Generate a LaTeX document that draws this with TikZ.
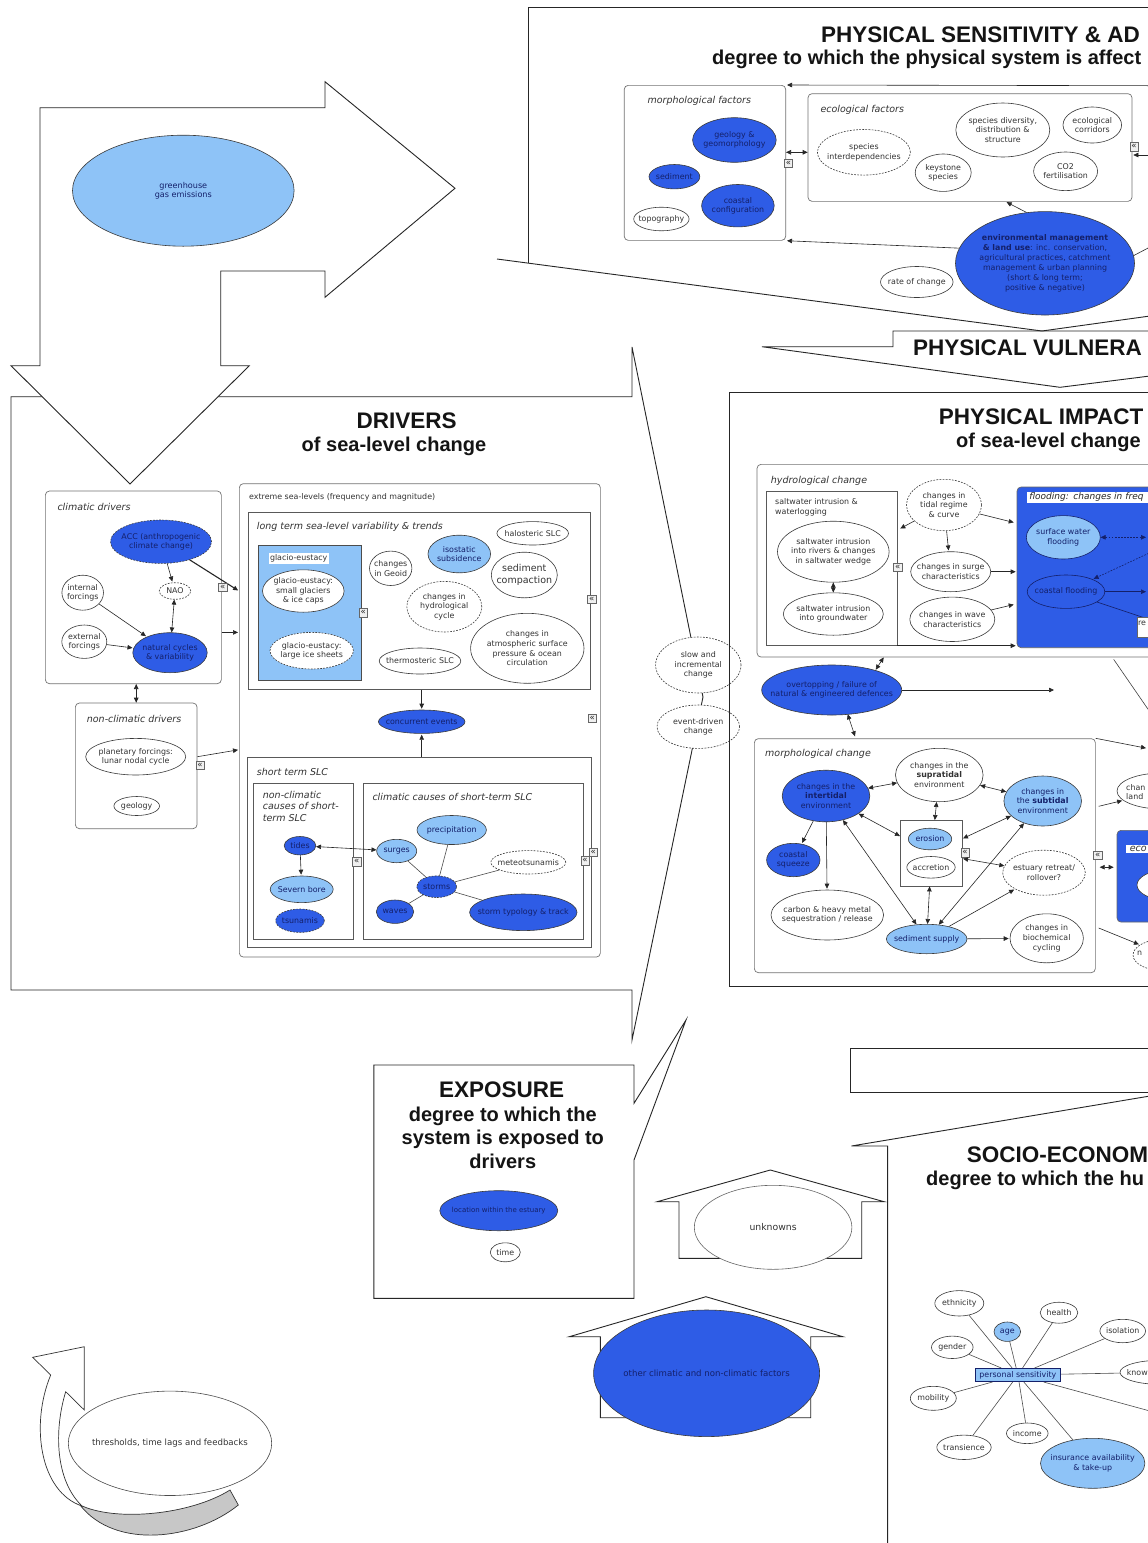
\documentclass[tikz,border=0pt]{standalone}
\usepackage{fontspec}
\setmainfont{DejaVu Sans}
\newfontfamily\headfont{Liberation Sans}
\usetikzlibrary{arrows.meta,shapes.geometric,calc}
\definecolor{dblue}{HTML}{2E5CE6}
\definecolor{lblue}{HTML}{8EC3F7}
\definecolor{ink}{HTML}{14206A}
\definecolor{rim}{HTML}{3A3A3A}
\newcommand\labfont{\fontsize{7.9}{9.6}\selectfont}
\newcommand\ttlfont{\fontsize{9.5}{11.3}\selectfont\itshape}
\newcommand\hdfont{\headfont\bfseries\fontsize{22.5}{26}\selectfont}
\newcommand\sbfont{\headfont\bfseries\fontsize{20}{23.5}\selectfont}
\begin{document}
\begin{tikzpicture}[x=1pt,y=-1pt,
  lbl/.style={font=\labfont, align=center, text=black!80, inner sep=0pt},
  lbk/.style={lbl, text=ink},
  ov/.style 2 args={shape=ellipse, draw=rim, line width=0.6pt, inner sep=0pt, minimum width=#1pt, minimum height=#2pt},
  tx/.style={label={[lbl]center:{#1}}},
  txb/.style={label={[lbk]center:{#1}}},
  fdk/.style={fill=dblue},
  flt/.style={fill=lblue},
  fwh/.style={fill=white},
  dsh/.style={dash pattern=on 1.8pt off 1.3pt},
  bx/.style 2 args={draw=black!55, line width=0.7pt, rounded corners=4pt, minimum width=#1pt, minimum height=#2pt, anchor=north west, inner sep=0pt, fill=white},
  sq/.style 2 args={draw=black!65, line width=0.7pt, minimum width=#1pt, minimum height=#2pt, anchor=north west, inner sep=0pt, fill=white},
  ttl/.style={font=\ttlfont, anchor=west, inner sep=0pt, text=black!80},
  hd/.style={font=\hdfont, inner sep=0pt, text=black!92},
  sb/.style={font=\sbfont, inner sep=0pt, align=center, text=black!92},
  con/.style={-{Triangle[length=5pt,width=4.5pt]}, line width=0.6pt, draw=black!85, shorten >=1pt},
  bicon/.style={{Triangle[length=5pt,width=4.5pt]}-{Triangle[length=5pt,width=4.5pt]}, line width=0.6pt, draw=black!85},
  ln/.style={line width=0.6pt, draw=black!70},
  xp/.style={draw=black!60, fill=black!6, font=\fontsize{8.5}{8.5}\selectfont, inner sep=0pt, minimum size=8.5pt, text=black!85},
  outl/.style={draw=black!85, line width=0.9pt, line join=miter}
]
\useasboundingbox (0,0) rectangle (1148,1543);
\clip (0,0) rectangle (1148,1543);
\fill[white] (0,0) rectangle (1148,1543);

% ---------- physical sensitivity frame and vulnerability banner ----------
\draw[outl] (528,262.9) -- (528,7.7) -- (1150,7.7);
\draw[outl] (497,259) -- (1042,331) -- (1150,316);
\node[hd, anchor=west] (psTitle) at (821,35) {PHYSICAL SENSITIVITY \& AD};
\node[sb, anchor=west] (psSub) at (712,59.5) {degree to which the physical system is affect};
\draw[outl] (1150,331) -- (893,331) -- (893,346.7) -- (762,346.7) -- (1060,387.3) -- (1150,376);
\node[hd, anchor=west] (pvTitle) at (913,348) {PHYSICAL VULNERA};

% morphological factors
\node[bx={161.4}{155}] (morphbox) at (623.9,85) {};
\node[ttl] (morphT) at (647.4,100.7) {morphological factors};
\node[ov={83.6}{44.6},fdk,txb={geology \&\\geomorphology}] (geo) at (734.4,140) {};
\node[ov={50.8}{24.4},fdk,txb={sediment}] (sed) at (674.4,176.7) {};
\node[ov={72.6}{42.4},fdk,txb={coastal\\configuration}] (cconf) at (737.9,205.7) {};
\node[ov={55.4}{23.6},fwh,tx={topography}] (topo) at (661.4,219) {};

% ecological factors
\node[bx={323.9}{107.7}] (ecobox) at (807.7,93.3) {};
\node[ttl] (ecoT) at (820.4,110) {ecological factors};
\node[ov={93}{45.6},fwh,dsh,tx={species\\interdependencies}] (spint) at (863.9,152.3) {};
\node[ov={94}{54},fwh,tx={species diversity,\\distribution \&\\structure}] (spdiv) at (1002.8,130) {};
\node[ov={58.6}{36},fwh,tx={ecological\\corridors}] (ecor) at (1092.3,125) {};
\node[ov={56}{37.4},fwh,tx={keystone\\species}] (keys) at (943.2,172.7) {};
\node[ov={64}{38.6},fwh,tx={CO2\\fertilisation}] (co2) at (1065.6,171.3) {};

\node[ov={179}{103.4},fdk,label={[lbk,font=\fontsize{7.9}{10}\selectfont]center:{\textbf{environmental management}\\\textbf{\& land use}: inc. conservation,\\agricultural practices, catchment\\management \& urban planning\\(short \& long term;\\positive \& negative)}}] (envm) at (1045,263.3) {};
\node[ov={72.6}{31},fwh,tx={rate of change}] (roc) at (916.8,282) {};

\coordinate (offH) at (1150,85.7);
\draw[con] (offH) -- (morphbox.north east);
\draw[bicon] (morphbox.east |- spint) -- (ecobox.west |- spint);
\node[xp] (xpA) at (788.4,163.3) {«};
\coordinate (offI) at (1150,155);
\draw[con] (offI) -- (ecobox.east |- offI);
\node[xp] (xpB) at (1134,146.7) {«};
\draw[con] (envm.110) -- ($(ecobox.south west)+(198,0)$);
\draw[con] (envm.170) -- (morphbox.south east);
\coordinate (offJ) at (1150,247);
\draw[ln, draw=black!85] (envm.5) -- (offJ);

% ---------- drivers callout ----------
\draw[outl, fill=white] (632,396.7) -- (11,396.7) -- (11,990) -- (632,990) -- (632,1040) -- (703,697) -- (632,347) -- cycle;

% bent arrow with greenhouse gas emissions
\draw[outl, fill=white] (40,107.7) -- (325,107.7) -- (325,81.7) -- (455,188.3) -- (325,297.3) -- (325,271) -- (220.7,271) -- (220.7,365.7) -- (249.3,365.7) -- (130,484) -- (11,365.7) -- (40,365.7) -- cycle;
\node[ov={221.6}{111},flt,label={[lbk,font=\fontsize{8.1}{9.8}\selectfont]center:{greenhouse\\gas emissions}}] (ghg) at (183.3,190.7) {};

\node[hd] (drvTitle) at (406.7,420.7) {DRIVERS};
\node[sb] (drvSub) at (394,446) {of sea-level change};

% climatic drivers
\node[bx={176}{192.6}] (climbox) at (45,490.7) {};
\node[ttl] (climT) at (57.3,506.7) {climatic drivers};
\node[ov={101}{43.4},fdk,dsh,txb={ACC (anthropogenic\\climate change)}] (acc) at (161,541.7) {};
\node[ov={31.6}{16.6},fwh,dsh,tx={NAO}] (nao) at (175,591) {};
\node[ov={41.6}{35},fwh,tx={internal\\forcings}] (intf) at (82.7,592.7) {};
\node[ov={45}{33.4},fwh,tx={external\\forcings}] (extf) at (84.3,641.7) {};
\node[ov={74.4}{40},fdk,txb={natural cycles\\\& variability}] (nat) at (170,652.7) {};

% non-climatic drivers
\node[bx={121.7}{125.6}] (nclimbox) at (75,702.7) {};
\node[ttl] (nclimT) at (86.7,719.3) {non-climatic drivers};
\node[ov={100}{36.6},fwh,tx={planetary forcings:\\lunar nodal cycle}] (plan) at (135.7,756.7) {};
\node[ov={45.6}{19},fwh,tx={geology}] (geol) at (136.7,806) {};

% extreme sea-levels
\node[bx={361}{473.4}] (extbox) at (239,483.3) {};
\node[lbl, anchor=west] (extT) at (249,497.3) {extreme sea-levels (frequency and magnitude)};
\node[sq={342.3}{177.6}] (ltbox) at (247.7,511.7) {};
\node[ttl] (ltT) at (256.7,527.3) {long term sea-level variability \& trends};
\node[sq={102.7}{135}, fill=lblue, draw=black!70] (glbox) at (258.3,545) {};
\node[lbl, fill=white, inner sep=1.5pt, anchor=west] (glT) at (268.3,558.3) {glacio-eustacy};
\node[ov={81.6}{42.4},fwh,tx={glacio-eustacy:\\small glaciers\\\& ice caps}] (glsm) at (303.3,591) {};
\node[ov={83.4}{36.6},fwh,dsh,tx={glacio-eustacy:\\large ice sheets}] (glice) at (311.7,650.7) {};
\node[xp] (xpC) at (363.3,612.7) {«};
\node[ov={42.4}{34.4},fwh,tx={changes\\in Geoid}] (geoid) at (390.7,568.3) {};
\node[ov={62.6}{37.6},flt,txb={isostatic\\subsidence}] (iso) at (459.3,554) {};
\node[ov={71.6}{23.4},fwh,tx={halosteric SLC}] (halo) at (532.7,533.3) {};
\node[ov={66}{45.6},fwh,label={[lbl,font=\fontsize{9.5}{11.5}\selectfont]center:{sediment\\compaction}}] (sedc) at (524.3,575) {};
\node[ov={75}{50.6},fwh,dsh,tx={changes in\\hydrological\\cycle}] (hydc) at (444.3,606.7) {};
\node[ov={113.4}{70},fwh,tx={changes in\\atmospheric surface\\pressure \& ocean\\circulation}] (atm) at (527.3,648.3) {};
\node[ov={81.6}{26},fwh,tx={thermosteric SLC}] (thermo) at (420,661) {};
\node[xp] (xpD) at (591.7,599.3) {«};

\node[ov={86.6}{23.4},fdk,txb={concurrent events}] (conc) at (421.7,721.7) {};
\node[xp] (xpE) at (592.3,718.3) {«};

% short term SLC
\node[sq={344.3}{190}] (stbox) at (246.7,756.7) {};
\node[ttl] (stT) at (256.7,771.7) {short term SLC};
\node[sq={100}{156.6}] (ncbox) at (253.3,782.7) {};
\node[ttl, align=left, anchor=north west] (ncT) at (262.7,791) {non-climatic\\causes of short-\\term SLC};
\node[ov={31.6}{18.4},fdk,txb={tides}] (tides) at (300,845.7) {};
\node[ov={63}{26.6},flt,txb={Severn bore}] (severn) at (301.7,889.3) {};
\node[ov={48.6}{23.4},fdk,dsh,txb={tsunamis}] (tsun) at (300,920.7) {};
\node[xp] (xpF) at (356.7,861.7) {«};
\node[sq={220.6}{156.6}] (ccbox) at (362.7,782.7) {};
\node[ttl] (ccT) at (372.3,797.3) {climatic causes of short-term SLC};
\node[ov={40}{23.4},flt,txb={surges}] (surg) at (396.7,851) {};
\node[ov={69.4}{29},flt,txb={precipitation}] (prec) at (451.7,830) {};
\node[ov={75}{23.4},fwh,dsh,tx={meteotsunamis}] (meteo) at (528.3,862.3) {};
\node[ov={37.4}{23.4},fdk,txb={waves}] (waves) at (395,911.7) {};
\node[ov={107.4}{36.6},fdk,txb={storm typology \& track}] (styp) at (523.3,912.3) {};
\foreach \t in {surg,prec,meteo,waves,styp} \draw[ln] (436.7,886.7) -- (\t);
\node[ov={40}{21.6},fdk,dsh,txb={storms}] (storm) at (436.7,886.7) {};
\node[xp] (xpG) at (593.3,852.3) {«};
\node[xp] (xpH) at (585,860.7) {«};

% drivers connectors
\draw[con] (acc) -- (nao);
\draw[bicon] (nao) -- (nat);
\draw[con] (intf) -- (nat);
\draw[con] (extf) -- (nat);
\draw[con, line width=1.1pt] (acc) -- (extbox.west |- glsm);
\node[xp] (xpI) at (222.7,587.3) {«};
\draw[con] (climbox.east |- nat.north) -- (extbox.west |- nat.north);
\draw[con] (nclimbox.east |- plan) -- ($(extbox.west |- plan)+(0,-7)$);
\node[xp] (xpJ) at (200,765) {«};
\draw[bicon] (nclimbox.north |- climbox.south) -- (nclimbox.north);
\draw[con] (conc |- ltbox.south) -- (conc);
\draw[con] (conc |- stbox.north) -- (conc);
\draw[con] (tides) -- (severn);
\draw[bicon] (tides) -- (surg);

% kinds of change at the tip of the drivers callout
\node[ov={85.4}{56},fwh,dsh,tx={slow and\\incremental\\change}] (slow) at (698.3,665) {};
\node[ov={82.6}{43.4},fwh,dsh,tx={event-driven\\change}] (evd) at (698.3,726.7) {};

% ---------- physical impact ----------
\draw[outl] (1150,392.3) -- (729,392.3) -- (729,986.7) -- (1150,986.7);
\node[hd, anchor=west] (piTitle) at (938.6,416.7) {PHYSICAL IMPACT};
\node[sb, anchor=west] (piSub) at (956,442.7) {of sea-level change};

% hydrological change
\node[bx={420}{192.7}] (hydbox) at (756.7,464) {};
\node[ttl] (hydT) at (770.7,480.7) {hydrological change};
\node[sq={130.7}{154}] (swbox) at (766,491) {};
\node[lbl, anchor=north west, align=left] (swT) at (775,498.5) {saltwater intrusion \&\\waterlogging};
\node[ov={111.6}{61},fwh,tx={saltwater intrusion\\into rivers \& changes\\in saltwater wedge}] (swr) at (833.3,551.7) {};
\node[ov={100}{42.4},fwh,tx={saltwater intrusion\\into groundwater}] (swg) at (833.3,614) {};
\draw[bicon] (swr) -- (swg);
\node[xp] (xpK) at (897.7,567.3) {«};
\node[ov={75}{51.4},fwh,dsh,tx={changes in\\tidal regime\\\& curve}] (tide) at (944,505) {};
\node[ov={80}{40},fwh,tx={changes in surge\\characteristics}] (surch) at (950.7,571.7) {};
\node[ov={85}{44.4},fwh,tx={changes in wave\\characteristics}] (wavch) at (952.3,619.3) {};

\node[bx={160}{160.6}, fill=dblue, draw=black!60] (floodbox) at (1016.7,486.7) {};
\node[font=\fontsize{9}{10}\selectfont\itshape, text=black!85, fill=white, inner sep=1.2pt, anchor=west, minimum width=130pt, align=left, text width=125pt] (floodT) at (1026.7,497.5) {flooding: changes in freq};
\node[ov={74}{43.4},flt,draw=ink,txb={surface water\\flooding}] (swf) at (1063.3,537.3) {};
\node[ov={77.6}{33.4},fdk,draw=ink,txb={coastal flooding}] (cfl) at (1066,591.7) {};
\coordinate (offA) at (1146,537.3);
\draw[bicon, dsh, draw=ink] (swf) -- (offA);
\coordinate (offB) at (1160,548);
\draw[con, dsh, draw=ink] (offB) -- (cfl);
\coordinate (offC) at (1147,591.7);
\draw[con, draw=ink] (cfl) -- (offC);
\coordinate (offD) at (1150,619.7);
\draw[ln, draw=ink] (cfl) -- (offD);
\node[draw=black!60, fill=white, anchor=north west, minimum width=20pt, minimum height=20pt, inner sep=0pt] (rebox) at (1136.7,616.7) {};
\node[lbl, anchor=west] (reT) at (1137.8,623.5) {re};

\draw[con] (tide) -- ($(swbox.north east)+(2,38)$);
\draw[con] (tide) -- (surch);
\draw[con] (tide) -- ($(floodbox.north west)+(-2,36)$);
\draw[con] (surch) -- (floodbox.west |- surch);
\draw[con] (wavch) -- ($(floodbox.north west)+(-2,117.6)$);
\draw[con] (swbox.south east) -- (floodbox.west |- swbox.south);
\coordinate (offF) at (1152,715);
\draw[ln, draw=black!75] ($(hydbox.south west)+(357,2)$) -- (offF);

% overtopping
\node[ov={140}{50},fdk,txb={overtopping / failure of\\natural \& engineered defences}] (ovt) at (831.7,690) {};
\coordinate (ovtE) at (1055,690);
\draw[con] (ovt) -- (ovtE);
\draw[bicon] ($(ovt.north)+(44,5)$) -- ($(hydbox.south west)+(127,0)$);

% morphological change
\node[bx={341}{234}] (mcbox) at (754,738.3) {};
\draw[bicon] ($(ovt.south)+(16,-1)$) -- ($(mcbox.north west)+(101,-2)$);
\node[ttl] (mcT) at (765,754) {morphological change};
\node[ov={87.6}{51.6},fdk,txb={changes in the\\\textbf{intertidal}\\environment}] (intt) at (826,796) {};
\node[ov={87.6}{53.4},fwh,tx={changes in the\\\textbf{supratidal}\\environment}] (supt) at (939.3,775) {};
\node[ov={77.6}{50},flt,txb={changes in\\the \textbf{subtidal}\\environment}] (subt) at (1042.7,801) {};
\node[sq={62.3}{65.7}] (erbox) at (900,820) {};
\node[ov={43.4}{21.6},flt,txb={erosion}] (eros) at (930,839) {};
\node[ov={48.4}{21.6},fwh,tx={accretion}] (accr) at (931,867.3) {};
\node[xp] (xpL) at (965,852.7) {«};
\node[ov={53.4}{33.4},fdk,txb={coastal\\squeeze}] (csq) at (793.3,860) {};
\node[ov={112.6}{50},fwh,tx={carbon \& heavy metal\\sequestration / release}] (carb) at (827.3,915) {};
\node[ov={80.6}{29.4},flt,txb={sediment supply}] (ssup) at (926.7,939) {};
\node[ov={73.4}{49},fwh,tx={changes in\\biochemical\\cycling}] (bioc) at (1046.7,938.3) {};
\node[ov={82.6}{45},fwh,dsh,tx={estuary retreat/\\rollover?}] (estr) at (1044,872.7) {};

\draw[bicon] (intt) -- (supt);
\draw[bicon] (supt) -- (subt);
\draw[bicon] (supt) -- (erbox);
\draw[bicon] (intt) -- (erbox);
\draw[bicon] (subt) -- (erbox);
\draw[con] (intt) -- (csq);
\draw[con] (intt) -- (carb);
\draw[bicon] (intt) -- (ssup);
\draw[bicon] (erbox) -- (ssup);
\draw[bicon] (subt) -- (ssup);
\draw[bicon] (erbox) -- (estr);
\draw[con] (ssup) -- (estr);
\draw[con] (ssup) -- (bioc);

% beyond the morphological change box
\node[ov={90}{36},fwh] (lchg) at (1162,791) {};
\node[lbl, anchor=west, align=left] (lchgT) at (1126,792) {chan\\land};
\coordinate (offE) at (1147,748.3);
\draw[con] (mcbox.north east) -- (offE);
\draw[con] ($(mcbox.north east)+(3,68)$) -- (lchg);
\node[bx={60}{91.7}, fill=dblue, draw=black!60] (ecob2) at (1116.7,830) {};
\node[ttl, fill=white, inner sep=1.2pt, minimum width=24pt, align=left] (ecoT2) at (1126,848.7) {eco};
\node[ov={60}{30},fwh] (ecoel) at (1167,885) {};
\node[xp] (xpM) at (1097.7,855) {«};
\draw[bicon] ($(mcbox.east |- ecob2.west)+(4,-9)$) -- ($(ecob2.west)+(-3,-9)$);
\node[ov={64}{32},fwh,dsh] (nel) at (1165,955) {};
\node[lbl, anchor=west] (nelT) at (1137,953) {n};
\draw[con] ($(mcbox.south east)+(3,-45)$) -- (nel);

% ---------- exposure ----------
\draw[outl, fill=white] (373.8,1065) -- (634,1065) -- (634,1103.3) -- (686,1020) -- (634,1160) -- (634,1298.3) -- (373.8,1298.3) -- cycle;
\node[hd] (expTitle) at (501.7,1090) {EXPOSURE};
\node[sb] (expSub) at (502.8,1137.5) {degree to which the\\system is exposed to\\drivers};
\node[ov={118}{40},fdk,label={[lbk,font=\fontsize{7}{8}\selectfont]center:{location within the estuary}}] (loc) at (498.8,1210.7) {};
\node[ov={30}{19},fwh,tx={time}] (time) at (505.3,1252.3) {};

% unknowns and other factors
\draw[outl, fill=white] (657.2,1201.7) -- (770.3,1170) -- (884.1,1201.7) -- (861.7,1201.7) -- (861.7,1258.3) -- (679,1258.3) -- (679,1201.7) -- cycle;
\node[ov={157.6}{84},fwh,draw=black!60,label={[lbl,font=\fontsize{9.3}{11}\selectfont]center:{unknowns}}] (unk) at (773.1,1227.3) {};
\draw[outl, fill=white] (569.3,1336.7) -- (705.9,1296.7) -- (842.8,1336.7) -- (810.7,1336.7) -- (810.7,1417.7) -- (600.3,1417.7) -- (600.3,1336.7) -- cycle;
\node[ov={226}{126.6},fdk,label={[lbk,font=\fontsize{8.6}{10}\selectfont]center:{other climatic and non-climatic factors}}] (oth) at (706.6,1373.3) {};

% ---------- socio-economic ----------
\draw[outl] (1150,1048.3) -- (850.5,1048.3) -- (850.5,1092.8) -- (1150,1092.8);
\draw[outl] (1150,1096) -- (851.4,1146) -- (887.6,1146) -- (887.6,1545);
\node[hd, anchor=west] (seTitle) at (966.7,1155) {SOCIO-ECONOM};
\node[sb, anchor=west] (seSub) at (926,1180) {degree to which the hu};

\node[draw=ink, fill=lblue, line width=0.6pt, inner sep=0pt, minimum width=85.7pt, minimum height=13.4pt, font=\labfont, text=ink] (pers) at (1017.9,1375) {personal sensitivity};
\node[ov={49}{25.4},fwh,tx={ethnicity}] (eth) at (959.3,1303.3) {};
\node[ov={37.6}{21},fwh,tx={health}] (hlth) at (1059,1312.7) {};
\node[ov={26.6}{19.4},flt,txb={age}] (age) at (1007.3,1331.7) {};
\node[ov={45.6}{23.4},fwh,tx={isolation}] (isol) at (1122.7,1331) {};
\node[ov={41.6}{22.4},fwh,tx={gender}] (gend) at (952.3,1347.3) {};
\node[ov={80}{24},fwh] (know) at (1160,1372.3) {};
\node[lbl, anchor=west] (knowT) at (1126.7,1372.3) {know};
\node[ov={46}{24},fwh,tx={mobility}] (mob) at (933.3,1398.3) {};
\node[ov={41.6}{20.6},fwh,tx={income}] (inc) at (1027.3,1433.3) {};
\node[ov={54.4}{24.4},fwh,tx={transience}] (trans) at (964,1447.3) {};
\node[ov={104.4}{50},flt,txb={insurance availability\\\& take-up}] (ins) at (1092.7,1463.3) {};
\foreach \t in {eth,hlth,age,isol,gend,know,mob,inc,trans,ins} \draw[ln] (pers) -- (\t);
\coordinate (offG) at (1150,1411);
\draw[ln] (pers) -- (offG);

% ---------- thresholds, time lags and feedbacks ----------
\path[draw=black!80, line width=0.7pt, fill=black!22] (80,1505) .. controls (115,1522) and (190,1515) .. (230,1490) -- (238.3,1505) .. controls (195,1540) and (115,1550) .. (80,1505) -- cycle;
\path[draw=black!80, line width=0.7pt, fill=white] (50.7,1375) -- (32.7,1357.3) -- (84.3,1346.7) -- (84.3,1410) -- (65.7,1391.7) .. controls (54,1430) and (55,1480) .. (82,1506) .. controls (40,1492) and (30,1425) .. (50.7,1375) -- cycle;
\node[ov={203.4}{104.4},fwh,draw=black!70,label={[lbl,font=\fontsize{8.6}{10}\selectfont]center:{thresholds, time lags and feedbacks}}] (thr) at (170,1443.3) {};

\end{tikzpicture}
\end{document}
